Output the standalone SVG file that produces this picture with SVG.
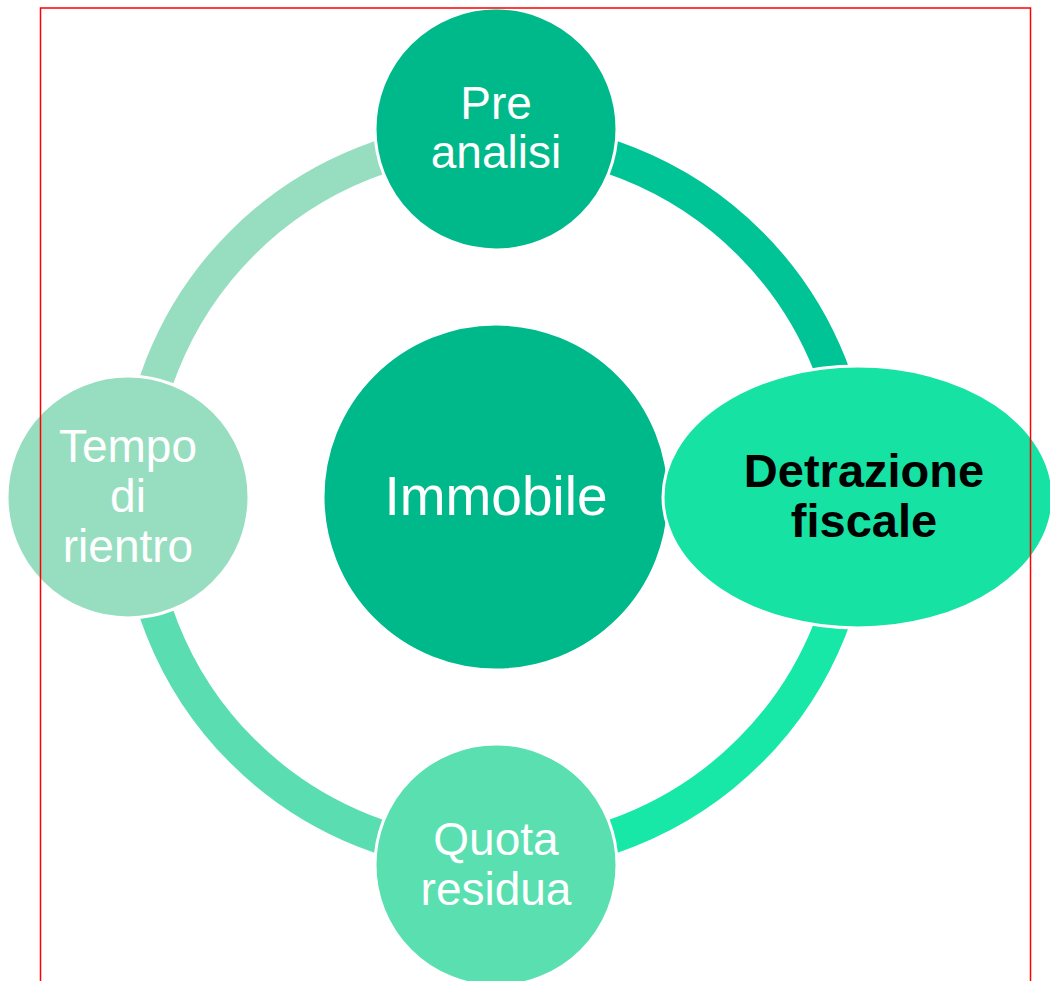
<svg xmlns="http://www.w3.org/2000/svg" width="1050" height="981" viewBox="0 0 1050 981">
<style>
.arc{fill:none;stroke-width:34}
.node{stroke:#fff;stroke-width:3}
.t{font-family:"Liberation Sans",Arial,sans-serif;font-size:46px;fill:#fff;text-anchor:middle}
.b{font-family:"Liberation Sans",Arial,sans-serif;font-size:47px;font-weight:bold;fill:#000;text-anchor:middle}
</style>
<rect width="1050" height="981" fill="#fff"/>
<g id="connectors">
<path class="arc" d="M496 138 A359 359 0 0 1 855 497" stroke="#00C396"/>
<path class="arc" d="M855 497 A359 359 0 0 1 496 856" stroke="#17E8A8"/>
<path class="arc" d="M496 856 A359 359 0 0 1 137 497" stroke="#5ADDB0"/>
<path class="arc" d="M137 497 A359 359 0 0 1 496 138" stroke="#97DEC1"/>
</g>
<g id="center">
<circle class="node" cx="496" cy="497" r="173" fill="#00B98A"/>
<text class="t" x="496" y="515" style="font-size:55px">Immobile</text>
</g>
<g id="top">
<circle class="node" cx="496" cy="129" r="121" fill="#00B98A"/>
<text class="t" x="496" y="119">Pre</text>
<text class="t" x="496" y="168">analisi</text>
</g>
<g id="right">
<ellipse class="node" cx="858" cy="497" rx="195" ry="131" fill="#16E2A4"/>
<text class="b" x="864" y="487">Detrazione</text>
<text class="b" x="864" y="537">fiscale</text>
</g>
<g id="bottom">
<circle class="node" cx="496" cy="865" r="121" fill="#5ADFB0"/>
<text class="t" x="496" y="855">Quota</text>
<text class="t" x="496" y="905">residua</text>
</g>
<g id="left">
<circle class="node" cx="128" cy="497" r="121" fill="#97DEC1"/>
<text class="t" x="128" y="462">Tempo</text>
<text class="t" x="128" y="512">di</text>
<text class="t" x="128" y="562">rientro</text>
</g>
<rect x="40.5" y="8" width="990" height="990" fill="none" stroke="#f00" stroke-width="1.5"/>
</svg>
